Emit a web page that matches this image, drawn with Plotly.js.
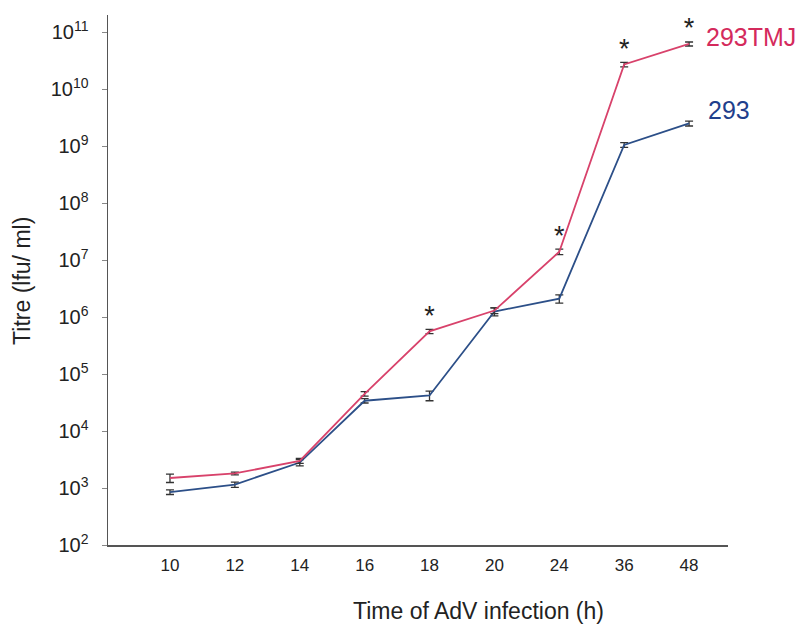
<!DOCTYPE html>
<html>
<head>
<meta charset="utf-8">
<script src="https://cdn.plot.ly/plotly-3.0.1.min.js"></script>
<style>html,body{margin:0;padding:0;background:#fff;}#chart{width:806px;height:629px;}</style>
</head>
<body>
<div id="chart"></div>
<script>
// Categories (hours post infection)
const hours = ["10", "12", "14", "16", "18", "20", "24", "36", "48"];

// Titre values (lfu/ml)
const titre293TMJ = [1.5e3, 1.8e3, 3.0e3, 4.5e4, 5.6e5, 1.3e6, 1.4e7, 2.7e10, 6.2e10];
const err293TMJ   = [0.25e3, 0.1e3, 0.3e3, 0.4e4, 0.5e5, 0.15e6, 0.15e7, 0.25e10, 0.5e10];

const titre293 = [8.5e2, 1.15e3, 2.8e3, 3.4e4, 4.2e4, 1.25e6, 2.1e6, 1.05e9, 2.5e9];
const err293   = [0.8e2, 0.12e3, 0.35e3, 0.3e4, 0.8e4, 0.2e6, 0.35e6, 0.1e9, 0.25e9];

// Significance markers on 293TMJ
const sigHours = ["18", "24", "36", "48"];
const sigValues = [5.6e5, 1.4e7, 2.7e10, 6.2e10];
const sigText = ["*", "*", "*", "*"];

// Y tick labels
const yTickVals = [1e2, 1e3, 1e4, 1e5, 1e6, 1e7, 1e8, 1e9, 1e10, 1e11];
const yTickText = ["10<sup>2</sup>", "10<sup>3</sup>", "10<sup>4</sup>", "10<sup>5</sup>", "10<sup>6</sup>",
                   "10<sup>7</sup>", "10<sup>8</sup>", "10<sup>9</sup>", "10<sup>10</sup>", "10<sup>11</sup>"];

const FONT = "Liberation Sans, Arial, Helvetica, sans-serif";
const PINK = "#d8426b";
const BLUE = "#2c4f88";

const traces = [
  {
    x: hours, y: titre293, type: "scatter", mode: "lines", name: "293",
    line: {color: BLUE, width: 1.8},
    error_y: {type: "data", array: err293, visible: true, color: "#333", thickness: 1.3, width: 4}
  },
  {
    x: hours, y: titre293TMJ, type: "scatter", mode: "lines", name: "293TMJ",
    line: {color: PINK, width: 1.8},
    error_y: {type: "data", array: err293TMJ, visible: true, color: "#333", thickness: 1.3, width: 4}
  },
  {
    x: sigHours, y: sigValues, type: "scatter", mode: "text", text: sigText,
    textposition: "top center", textfont: {family: FONT, size: 27, color: "#222"},
    hoverinfo: "skip", showlegend: false
  }
];

const layout = {
  width: 806, height: 629,
  margin: {l: 108, r: 78, t: 15, b: 84},
  paper_bgcolor: "#fff", plot_bgcolor: "#fff",
  showlegend: false,
  font: {family: FONT, color: "#222"},
  xaxis: {
    type: "category", range: [-0.955, 8.6],
    showline: true, linecolor: "#555", linewidth: 1.5,
    showgrid: false, zeroline: false, ticks: "",
    tickfont: {family: FONT, size: 17, color: "#222"},
    ticklabelstandoff: 4
  },
  yaxis: {
    type: "log", range: [2, 11.3],
    tickvals: yTickVals, ticktext: yTickText,
    showline: true, linecolor: "#555", linewidth: 1.5,
    showgrid: false, zeroline: false,
    ticks: "outside", ticklen: 5, tickcolor: "#888", tickwidth: 1,
    tickfont: {family: FONT, size: 20, color: "#222"},
    ticklabelstandoff: 9
  },
  annotations: [
    {text: "Time of AdV infection (h)", xref: "paper", yref: "paper", x: 0.597, y: -0.125,
     xanchor: "center", yanchor: "middle", showarrow: false, font: {family: FONT, size: 23, color: "#222"}},
    {text: "Titre (lfu/ ml)", xref: "paper", yref: "paper", x: -0.139, y: 0.498,
     xanchor: "center", yanchor: "middle", textangle: -90, showarrow: false, font: {family: FONT, size: 23, color: "#222"}},
    {text: "293TMJ", xref: "paper", yref: "y", x: 0.962, y: Math.log10(titre293TMJ[8]),
     xanchor: "left", yanchor: "middle", yshift: 7, showarrow: false,
     font: {family: FONT, size: 25, color: "#d42a5c"}},
    {text: "293", xref: "paper", yref: "y", x: 0.964, y: Math.log10(titre293[8]),
     xanchor: "left", yanchor: "middle", yshift: 13, showarrow: false,
     font: {family: FONT, size: 25, color: "#1f3f8c"}}
  ]
};

Plotly.newPlot("chart", traces, layout, {displayModeBar: false, staticPlot: true});
</script>
</body>
</html>
